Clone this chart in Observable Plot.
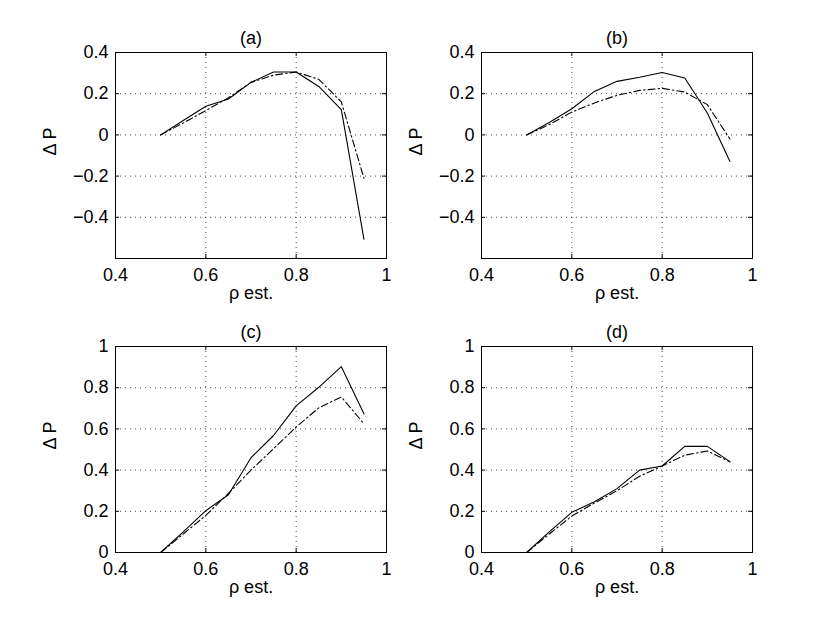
<!DOCTYPE html>
<html>
<head>
<meta charset="utf-8">
<script src="https://cdn.jsdelivr.net/npm/d3@7"></script>
<script src="https://cdn.jsdelivr.net/npm/@observablehq/plot@0.6"></script>
<style>
  html, body { margin: 0; padding: 0; background: #fff; }
  #wrap { position: relative; width: 830px; height: 623px; overflow: hidden; background: #fff; }
  .panel { position: absolute; }
</style>
</head>
<body>
<div id="wrap"></div>
<script>
const rho = [0.5, 0.55, 0.6, 0.65, 0.7, 0.75, 0.8, 0.85, 0.9, 0.95];

const aSolid = [0, 0.07, 0.139, 0.174, 0.255, 0.305, 0.305, 0.235, 0.123, -0.506];
const aDash  = [0, 0.058, 0.118, 0.18, 0.255, 0.29, 0.305, 0.27, 0.16, -0.21];

const bSolid = [0, 0.06, 0.127, 0.211, 0.26, 0.28, 0.303, 0.276, 0.106, -0.129];
const bDash  = [0, 0.05, 0.111, 0.155, 0.192, 0.216, 0.226, 0.208, 0.147, -0.02];

const cSolid = [0, 0.1, 0.203, 0.28, 0.46, 0.568, 0.712, 0.802, 0.902, 0.673];
const cDash  = [0, 0.09, 0.18, 0.287, 0.4, 0.504, 0.609, 0.702, 0.755, 0.625];

const dSolid = [0, 0.1, 0.195, 0.246, 0.31, 0.4, 0.42, 0.515, 0.515, 0.441];
const dDash  = [0, 0.09, 0.177, 0.24, 0.3, 0.37, 0.42, 0.472, 0.493, 0.44];

const xTicks = [0.4, 0.6, 0.8, 1];
const yTicksTop = [-0.4, -0.2, 0, 0.2, 0.4];
const yTicksBottom = [0, 0.2, 0.4, 0.6, 0.8, 1];
const titles = ["(a)", "(b)", "(c)", "(d)"];
const xLabel = "ρ est.";
const yLabel = "Δ P";

const W = 415, H = 311, ML = 115, MR = 29, MT = 52, MB = 53;
const BW = W - ML - MR, BH = H - MT - MB;
const FONT = "'Liberation Sans', Arial, Helvetica, sans-serif";
const FS = 18;

const fmt = d => (Math.abs(d) < 1e-9 ? "0" : String(Math.round(d * 10) / 10)).replace("-", "\u2212");

function panel(title, yDomain, yTicks, solid, dash) {
  const rows = rho.map((x, i) => ({x, s: solid[i], d: dash[i]}));
  return Plot.plot({
    width: W, height: H,
    marginLeft: ML, marginRight: MR, marginTop: MT, marginBottom: MB,
    style: {fontFamily: FONT, fontSize: FS + "px", background: "transparent", overflow: "visible", color: "black"},
    x: {domain: [0.4, 1], label: null},
    y: {domain: yDomain, label: null},
    marks: [
      Plot.gridX(xTicks, {stroke: "black", strokeOpacity: 0.9, strokeWidth: 0.8, strokeDasharray: "1,4"}),
      Plot.gridY(yTicks, {stroke: "black", strokeOpacity: 0.9, strokeWidth: 0.8, strokeDasharray: "1,4"}),
      Plot.tickX(xTicks, {x: d => d, insetTop: BH - 4, stroke: "black"}),
      Plot.tickX(xTicks, {x: d => d, insetBottom: BH - 4, stroke: "black"}),
      Plot.tickY(yTicks, {y: d => d, insetRight: BW - 4, stroke: "black"}),
      Plot.tickY(yTicks, {y: d => d, insetLeft: BW - 4, stroke: "black"}),
      Plot.axisX(xTicks, {tickSize: 0, tickPadding: 10, tickFormat: fmt, fontSize: FS, label: null}),
      Plot.axisY(yTicks, {tickSize: 0, tickPadding: 7, tickFormat: fmt, fontSize: FS, label: null}),
      Plot.line(rows, {x: "x", y: "s", stroke: "black", strokeWidth: 1.1}),
      Plot.line(rows, {x: "x", y: "d", stroke: "black", strokeWidth: 1.1, strokeDasharray: "7,3,1.5,3"}),
      Plot.frame({stroke: "black", strokeWidth: 1}),
      Plot.text([title], {frameAnchor: "top", dy: -21, fontSize: FS}),
      Plot.text([yLabel], {frameAnchor: "left", dx: -65, rotate: -90, fontSize: FS}),
      Plot.text([xLabel], {frameAnchor: "bottom", dy: 40, fontSize: FS})
    ]
  });
}

const wrap = document.getElementById("wrap");
const specs = [
  {left: 0,   top: 0,   title: titles[0], yd: [-0.6, 0.4], yt: yTicksTop, s: aSolid, d: aDash},
  {left: 366, top: 0,   title: titles[1], yd: [-0.6, 0.4], yt: yTicksTop, s: bSolid, d: bDash},
  {left: 0,   top: 294, title: titles[2], yd: [0, 1], yt: yTicksBottom, s: cSolid, d: cDash},
  {left: 366, top: 294, title: titles[3], yd: [0, 1], yt: yTicksBottom, s: dSolid, d: dDash}
];
for (const sp of specs) {
  const div = document.createElement("div");
  div.className = "panel";
  div.style.left = sp.left + "px";
  div.style.top = sp.top + "px";
  div.appendChild(panel(sp.title, sp.yd, sp.yt, sp.s, sp.d));
  wrap.appendChild(div);
}
</script>
</body>
</html>
